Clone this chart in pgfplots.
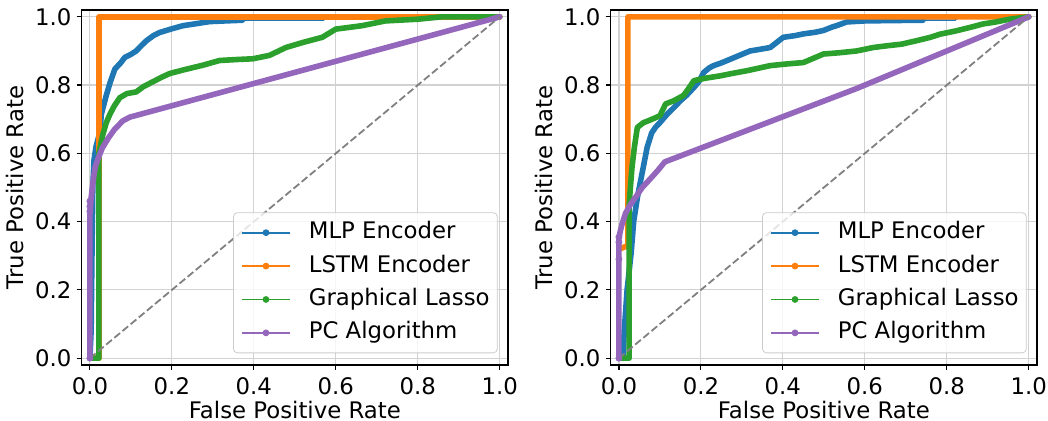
\documentclass[border=0pt]{standalone}
\usepackage{fontspec}
\setmainfont{DejaVu Sans}
\usepackage{pgfplots}
\pgfplotsset{compat=1.18}

\definecolor{c0}{HTML}{1F77B4}
\definecolor{c1}{HTML}{FF7F0E}
\definecolor{c2}{HTML}{2CA02C}
\definecolor{c4}{HTML}{9467BD}

\pgfplotsset{
  rocax/.style={
    scale only axis,
    width=213.15pt, height=177.5pt,
    xmin=-0.02, xmax=1.02, ymin=-0.02, ymax=1.02,
    xtick={0,0.2,...,1}, ytick={0,0.2,...,1},
    /pgf/number format/.cd, fixed, fixed zerofill, precision=1, assume math mode=true,
    /pgfplots/.cd,
    tick align=outside, major tick length=2.5pt,
    every tick/.style={black, line width=0.6pt},
    xtick pos=bottom, ytick pos=left,
    axis line style={line width=0.6pt},
    grid=major, grid style={gray!35, line width=0.6pt},
    xticklabel style={inner ysep=3.35pt},
    yticklabel style={inner xsep=2.5pt},
    xlabel={False Positive Rate}, ylabel={True Positive Rate},
    xlabel style={inner ysep=1pt, yshift=1.1pt},
    ylabel style={inner ysep=2.85pt},
    legend cell align=left,
    legend image code/.code={
      \draw[mark repeat=2, mark phase=2, #1]
        plot coordinates {(0pt,0pt) (12pt,0pt) (24pt,0pt)};},
    legend style={at={(0.9758,0.033)}, anchor=south east,
      draw=black!20, rounded corners=2pt, fill=white, fill opacity=0.8,
      text opacity=1, draw opacity=1,
      inner xsep=3.85pt, inner ysep=4.5pt, row sep=5.7pt, column sep=9pt,
      nodes={inner sep=0pt, text height=8.5pt, text depth=2.5pt, anchor=west}},
  },
  thickline/.style={line width=2.8pt, line join=round, line cap=round, forget plot},
  thinline/.style={line width=0.75pt, line join=round, forget plot},
  diag/.style={gray, line width=0.9pt, dash pattern=on 3.7pt off 1.6pt, forget plot},
  legimg/.style={line width=0.85pt, mark=*, mark size=1.25pt,
    mark options={solid, fill opacity=1, draw opacity=1}},
}

\begin{document}
\fontsize{11.4}{13.7}\selectfont
\begin{tikzpicture}
\useasboundingbox (-40.85pt,-28pt) rectangle (483.15pt,182.5pt);

% left panel
\begin{axis}[rocax]
\addlegendimage{c0, legimg}
\addlegendimage{c1, legimg}
\addlegendimage{c2, legimg}
\addlegendimage{c4, legimg}
\addplot[c0, thickline] coordinates {
 (0,0) (0.003,0.08) (0.005,0.3) (0.007,0.5) (0.01,0.58) (0.015,0.62)
 (0.024,0.66) (0.028,0.715) (0.04,0.77) (0.05,0.81) (0.061,0.847)
 (0.075,0.865) (0.085,0.881) (0.1,0.89) (0.113,0.90) (0.125,0.915)
 (0.138,0.93) (0.155,0.945) (0.17,0.954) (0.2,0.965) (0.227,0.974)
 (0.26,0.98) (0.292,0.986) (0.33,0.988) (0.372,0.99)};
\addplot[c0, thinline] coordinates {
 (0.372,0.99) (0.57,0.99) (0.575,1) (1,1)};
\addplot[c1, thickline] coordinates {
 (0,0) (0.022,0) (0.022,1) (1,1)};
\addplot[c2, thickline] coordinates {
 (0,0) (0.022,0) (0.022,0.6) (0.027,0.63) (0.032,0.657) (0.04,0.69)
 (0.049,0.715) (0.06,0.74) (0.073,0.763) (0.09,0.775) (0.113,0.78)
 (0.13,0.795) (0.154,0.81) (0.175,0.823) (0.195,0.834) (0.23,0.845)
 (0.275,0.858) (0.316,0.872) (0.36,0.875) (0.397,0.877) (0.438,0.887)
 (0.478,0.91) (0.52,0.925) (0.567,0.94) (0.6,0.964) (0.664,0.974)
 (0.721,0.988) (0.8,0.993) (0.859,1.0) (1,1)};
\addplot[c4, thickline] coordinates {
 (0,0) (0,0.42) (0.003,0.47) (0.008,0.52) (0.013,0.56) (0.02,0.585)
 (0.03,0.615) (0.045,0.645) (0.06,0.67) (0.08,0.695) (0.097,0.706) (1,1)};
\addplot[c4, only marks, mark=*, mark size=1.5pt, forget plot] coordinates {
 (0,0) (0,0.43) (0,0.445) (0,0.46)};
\addplot[diag] coordinates {(0,0) (1,1)};
\legend{MLP Encoder, LSTM Encoder, Graphical Lasso, PC Algorithm}
\end{axis}

% right panel
\begin{axis}[rocax, at={(264.5pt,0pt)}]
\addlegendimage{c0, legimg}
\addlegendimage{c1, legimg}
\addlegendimage{c2, legimg}
\addlegendimage{c4, legimg}
\addplot[c0, thickline] coordinates {
 (0,0) (0.01,0) (0.013,0.08) (0.02,0.2) (0.03,0.31) (0.036,0.4) (0.045,0.47)
 (0.053,0.52) (0.069,0.618) (0.08,0.66) (0.089,0.676) (0.1,0.69)
 (0.118,0.715) (0.135,0.735) (0.15,0.754) (0.165,0.77) (0.183,0.793)
 (0.195,0.81) (0.207,0.837) (0.22,0.85) (0.231,0.857) (0.25,0.865)
 (0.272,0.876) (0.3,0.89) (0.32,0.90) (0.345,0.905) (0.369,0.91)
 (0.385,0.925) (0.401,0.94) (0.43,0.945) (0.45,0.95) (0.48,0.955)
 (0.499,0.96) (0.52,0.97) (0.531,0.974) (0.556,0.985) (0.6,0.988)
 (0.661,0.989) (0.742,0.99)};
\addplot[c0, thinline] coordinates {
 (0.742,0.99) (0.82,0.99) (0.83,1) (1,1)};
\addplot[c1, thinline] coordinates {
 (0,0) (0,0.3) (0.002,0.32)};
\addplot[c1, thickline] coordinates {
 (0.002,0.32) (0.022,0.33) (0.022,1) (1,1)};
\addplot[c2, thickline] coordinates {
 (0,0) (0.025,0) (0.025,0.45) (0.028,0.5) (0.032,0.56) (0.038,0.62)
 (0.045,0.676) (0.06,0.69) (0.073,0.696) (0.1,0.71) (0.114,0.745)
 (0.134,0.754) (0.158,0.77) (0.17,0.79) (0.183,0.813) (0.21,0.82)
 (0.247,0.827) (0.28,0.835) (0.312,0.842) (0.369,0.857) (0.41,0.862)
 (0.45,0.866) (0.499,0.891) (0.54,0.895) (0.58,0.90) (0.62,0.91)
 (0.653,0.915) (0.69,0.92) (0.726,0.93) (0.76,0.94) (0.783,0.949)
 (0.823,0.959) (0.86,0.97) (0.888,0.979) (0.92,0.985) (0.953,0.993) (1,1)};
\addplot[c4, thickline] coordinates {
 (0,0) (0,0.35) (0.003,0.37) (0.008,0.394) (0.016,0.424) (0.028,0.45)
 (0.041,0.472) (0.057,0.5) (0.08,0.53) (0.095,0.55) (0.112,0.575)
 (0.58,0.79) (1,1)};
\addplot[c4, only marks, mark=*, mark size=1.5pt, forget plot] coordinates {
 (0,0) (0,0.29) (0,0.34) (0,0.355)};
\addplot[diag] coordinates {(0,0) (1,1)};
\legend{MLP Encoder, LSTM Encoder, Graphical Lasso, PC Algorithm}
\end{axis}
\end{tikzpicture}
\end{document}
